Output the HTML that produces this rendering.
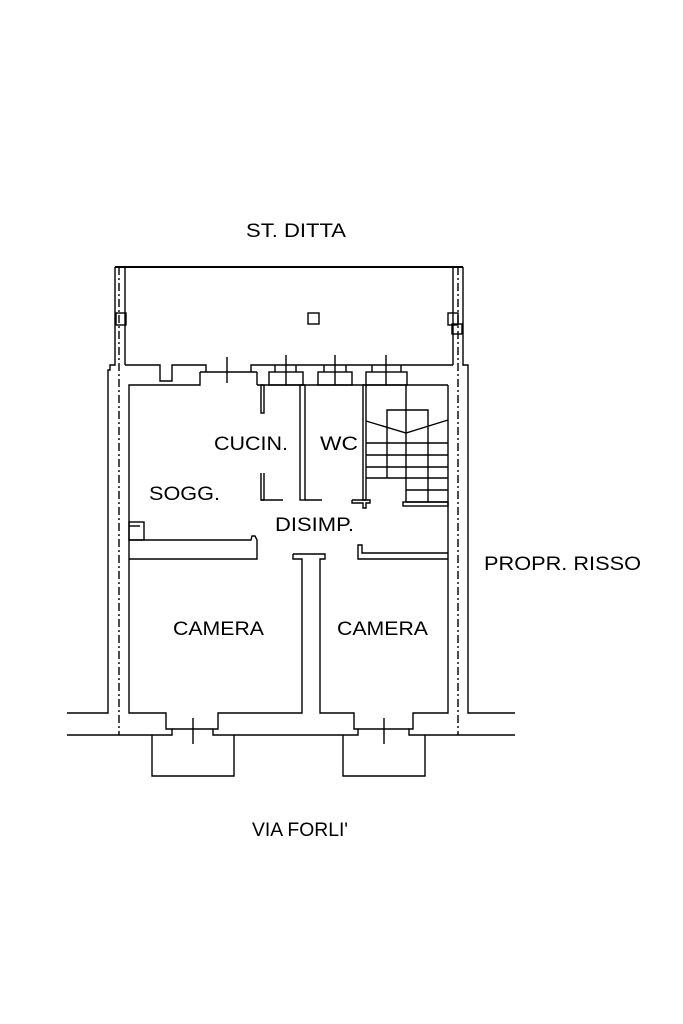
<!DOCTYPE html>
<html><head><meta charset="utf-8"><style>
body{margin:0;background:#fff}
svg{display:block}
text{font-family:"Liberation Sans",Arial,sans-serif;font-size:19px;fill:#000}
</style></head><body>
<svg width="683" height="1024" viewBox="0 0 683 1024" xmlns="http://www.w3.org/2000/svg">
<g fill="none" stroke="#000" stroke-width="1.4">
<line x1="115" y1="267" x2="463" y2="267" stroke-width="2"/>
<polyline points="115,267 115,365 110,365 110,370 108,370 108,713 67,713"/>
<line x1="125" y1="267" x2="125" y2="365"/>
<polyline points="463,267 463,365 468,365 468,713 515,713"/>
<line x1="453" y1="267" x2="453" y2="365"/>
<line x1="119" y1="267" x2="119" y2="735" stroke-dasharray="8,3,2,3"/>
<line x1="458" y1="267" x2="458" y2="735" stroke-dasharray="8,3,2,3"/>
<rect x="116" y="313" width="10" height="12"/>
<rect x="448" y="313" width="10" height="12"/>
<rect x="452" y="324" width="10" height="10"/>
<rect x="308" y="313" width="11" height="11"/>
<polyline points="125,365 160,365 160,381 172,381 172,365 206,365 206,372"/>
<line x1="200" y1="372" x2="257" y2="372"/>
<polyline points="200,372 200,385 129,385 129,713 166,713 166,729 172,729 172,735 67,735"/>
<polyline points="251,372 251,365 453,365"/>
<line x1="257" y1="372" x2="257" y2="385"/>
<line x1="257" y1="385" x2="448" y2="385"/>
<line x1="227" y1="357" x2="227" y2="383"/>
<rect x="269" y="372" width="34" height="13"/>
<line x1="275" y1="365" x2="275" y2="372"/><line x1="296" y1="365" x2="296" y2="372"/>
<line x1="286" y1="355" x2="286" y2="385"/>
<rect x="318" y="372" width="34" height="13"/>
<line x1="324" y1="365" x2="324" y2="372"/><line x1="346" y1="365" x2="346" y2="372"/>
<line x1="335" y1="355" x2="335" y2="385"/>
<rect x="366" y="372" width="41" height="13"/>
<line x1="372" y1="365" x2="372" y2="372"/><line x1="401" y1="365" x2="401" y2="372"/>
<line x1="386" y1="355" x2="386" y2="385"/>
<rect x="261" y="385" width="3" height="28"/>
<polyline points="261,473 261,500 264,500 264,473"/>
<line x1="261" y1="500" x2="283" y2="500"/>
<rect x="300" y="385" width="5" height="115"/>
<line x1="305" y1="500" x2="322" y2="500"/>
<rect x="363" y="385" width="3" height="115"/>
<polyline points="352,500 370,500 370,503 366,503 366,508 363,508 363,503 352,503 352,500"/>
<polyline points="387,478 387,410 428,410 428,502"/>
<line x1="406" y1="385" x2="406" y2="502"/>
<polyline points="366,421 406,433 448,420"/>
<line x1="366" y1="443" x2="448" y2="443"/>
<line x1="366" y1="455" x2="448" y2="455"/>
<line x1="366" y1="467" x2="448" y2="467"/>
<line x1="366" y1="478" x2="448" y2="478"/>
<line x1="406" y1="490" x2="448" y2="490"/>
<line x1="406" y1="502" x2="448" y2="502"/>
<rect x="403" y="502" width="45" height="4"/>
<polyline points="448,385 448,713 413,713 413,729 409,729 409,735 515,735"/>
<rect x="129" y="522" width="15" height="18"/>
<line x1="129" y1="526" x2="140" y2="526"/>
<polyline points="129,540 251,540 252,536 255,536 257,540 257,559 129,559"/>
<polyline points="293,554 325,554 325,559 320,559 320,713 354,713 354,729 358,729 358,735 213,735 213,729 218,729 218,713 302,713 302,559 293,559 293,554"/>
<polyline points="358,553 358,545 362,545 362,553 448,553"/>
<polyline points="358,553 358,559 448,559"/>
<line x1="172" y1="729" x2="213" y2="729"/>
<line x1="193" y1="718" x2="193" y2="744"/>
<polyline points="152,735 152,776 234,776 234,735"/>
<line x1="358" y1="729" x2="409" y2="729"/>
<line x1="384" y1="718" x2="384" y2="744"/>
<polyline points="343,735 343,776 425,776 425,735"/>
</g>
<text x="246" y="237" textLength="100" lengthAdjust="spacingAndGlyphs">ST. DITTA</text>
<text x="214" y="450" textLength="74" lengthAdjust="spacingAndGlyphs">CUCIN.</text>
<text x="320" y="450" textLength="38" lengthAdjust="spacingAndGlyphs">WC</text>
<text x="149" y="500" textLength="71" lengthAdjust="spacingAndGlyphs">SOGG.</text>
<text x="275" y="531" textLength="79" lengthAdjust="spacingAndGlyphs" fill="#222">DISIMP.</text>
<text x="173" y="635" textLength="91" lengthAdjust="spacingAndGlyphs">CAMERA</text>
<text x="337" y="635" textLength="91" lengthAdjust="spacingAndGlyphs">CAMERA</text>
<text x="484" y="570" textLength="157" lengthAdjust="spacingAndGlyphs">PROPR. RISSO</text>
<text x="252" y="836" textLength="96" lengthAdjust="spacingAndGlyphs">VIA FORLI'</text>
</svg>
</body></html>
